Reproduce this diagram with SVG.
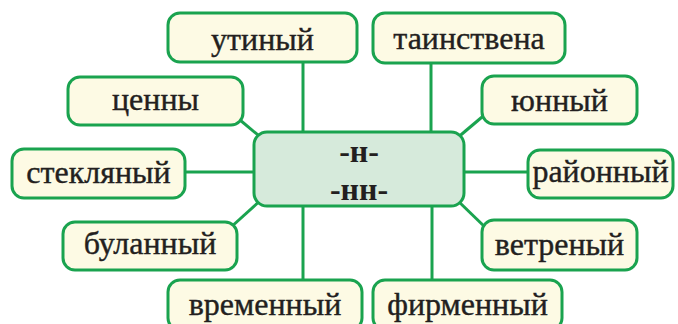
<svg xmlns="http://www.w3.org/2000/svg" width="678" height="324" viewBox="0 0 678 324">
<style>
.box{fill:#fdfae4;stroke:#1aa34f;stroke-width:3}
.core{fill:#d6eadb;stroke:#1aa34f;stroke-width:3}
.lbl{font-family:"Liberation Serif","DejaVu Serif",serif;font-size:32px;fill:#231f20;stroke:#231f20;stroke-width:0.4;text-anchor:middle}
.big{font-family:"Liberation Serif","DejaVu Serif",serif;font-size:32px;font-weight:bold;fill:#231f20;text-anchor:middle}
#connectors line{stroke:#1aa34f;stroke-width:3}
</style>
<rect width="678" height="324" fill="#ffffff"/>
<g id="connectors">
<line x1="303" y1="60" x2="303" y2="134"/>
<line x1="431" y1="60" x2="431" y2="134"/>
<line x1="303" y1="204" x2="303" y2="283"/>
<line x1="432" y1="204" x2="432" y2="283"/>
<line x1="183" y1="172" x2="256" y2="172"/>
<line x1="462" y1="172" x2="530" y2="172"/>
<line x1="234" y1="115" x2="264" y2="140"/>
<line x1="488" y1="112" x2="456" y2="139"/>
<line x1="230" y1="228" x2="262" y2="199"/>
<line x1="456" y1="199" x2="488" y2="230"/>
</g>
<g id="core">
<rect class="core" x="254" y="132" width="210" height="74" rx="13"/>
<text class="big" x="359" y="162">-н-</text>
<text class="big" x="359" y="200">-нн-</text>
</g>
<g id="n-utiny"><rect class="box" x="168" y="13" width="189" height="49" rx="12"/><text class="lbl" x="262.5" y="50">утиный</text></g>
<g id="n-tainstvena"><rect class="box" x="373" y="13" width="192" height="50" rx="12"/><text class="lbl" x="469" y="49">таинствена</text></g>
<g id="n-tsenny"><rect class="box" x="68" y="77" width="175" height="48" rx="12"/><text class="lbl" x="155.5" y="110">ценны</text></g>
<g id="n-yunny"><rect class="box" x="482" y="76" width="155" height="48" rx="12"/><text class="lbl" x="559.5" y="111">юнный</text></g>
<g id="n-steklyany"><rect class="box" x="12" y="149" width="173" height="49" rx="12"/><text class="lbl" x="98.5" y="183">стекляный</text></g>
<g id="n-rayonny"><rect class="box" x="528" y="150" width="145" height="48" rx="12"/><text class="lbl" x="600.5" y="182">районный</text></g>
<g id="n-bulanny"><rect class="box" x="63" y="222" width="174" height="48" rx="12"/><text class="lbl" x="150" y="254">буланный</text></g>
<g id="n-vetreny"><rect class="box" x="482" y="220" width="155" height="50" rx="12"/><text class="lbl" x="559.5" y="255">ветреный</text></g>
<g id="n-vremenny"><rect class="box" x="168" y="280" width="194" height="50" rx="12"/><text class="lbl" x="265" y="315">временный</text></g>
<g id="n-firmenny"><rect class="box" x="373" y="280" width="189" height="50" rx="12"/><text class="lbl" x="467.5" y="315">фирменный</text></g>
</svg>
